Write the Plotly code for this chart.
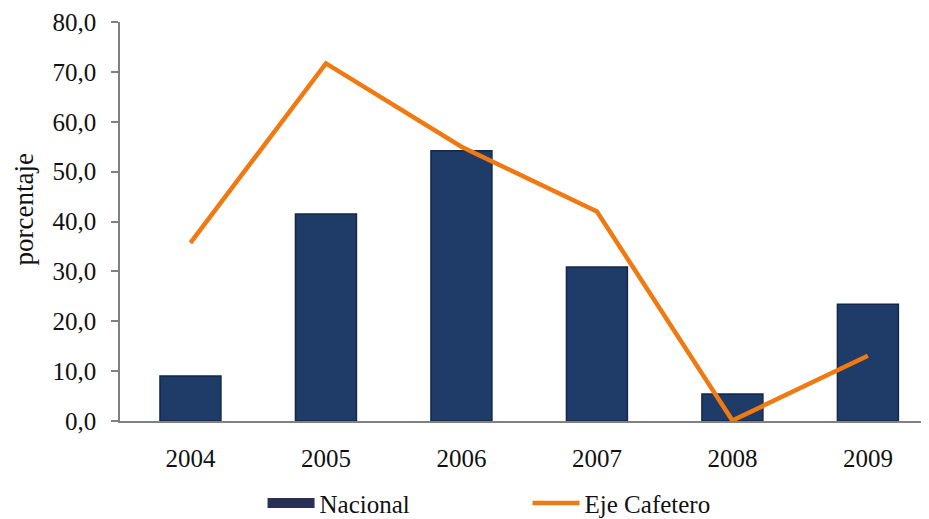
import plotly.graph_objects as go

years = ["2004", "2005", "2006", "2007", "2008", "2009"]
nacional = [9.0, 41.5, 54.2, 30.9, 5.4, 23.4]
eje_cafetero = [35.7, 71.7, 55.0, 42.0, 0.1, 13.1]
y_ticks = [0, 10, 20, 30, 40, 50, 60, 70, 80]

font_family = "Liberation Serif"
navy = "#1f3b68"
orange = "#f07a12"

fig = go.Figure()
fig.add_trace(go.Bar(
    x=years, y=nacional, name="Nacional", showlegend=False,
    width=0.45,
    marker=dict(color=navy, line=dict(color="#13284b", width=1.5)),
))
fig.add_trace(go.Scatter(
    x=years, y=eje_cafetero, name="Eje Cafetero", mode="lines", showlegend=False,
    line=dict(color=orange, width=4.5),
))
# legend entries (no data)
fig.add_trace(go.Scatter(
    x=[None], y=[None], name="Nacional", mode="lines",
    line=dict(color="#2a2f55", width=11),
))
fig.add_trace(go.Scatter(
    x=[None], y=[None], name="Eje Cafetero", mode="lines",
    line=dict(color=orange, width=4.5),
))

fig.update_layout(
    width=929, height=519,
    margin=dict(l=112, r=0, t=14, b=106, autoexpand=False),
    paper_bgcolor="white", plot_bgcolor="white",
    separators=",.",
    font=dict(family=font_family, size=25, color="#111111"),
    showlegend=True,
    legend=dict(
        orientation="h", xref="container", x=0.274, xanchor="left",
        yref="container", y=0.046, yanchor="middle",
        font=dict(family=font_family, size=25, color="#111111"),
        itemwidth=47, entrywidth=203, bgcolor="rgba(0,0,0,0)",
    ),
    annotations=[dict(
        text="porcentaje", textangle=-90, showarrow=False,
        xref="paper", x=0, xanchor="center", xshift=-96,
        yref="paper", y=0.53, yanchor="middle",
        font=dict(family=font_family, size=27, color="#111111"),
    )],
)
fig.update_xaxes(
    type="category", range=[-0.52, 5.51], automargin=False,
    showline=True, linecolor="#808080", linewidth=1.5,
    ticks="", showgrid=False, ticklabelstandoff=14,
    tickfont=dict(family=font_family, size=25, color="#111111"),
)
fig.update_yaxes(
    range=[0, 80], tickvals=y_ticks, tickformat=".1f", automargin=False,
    showline=True, linecolor="#808080", linewidth=1.5,
    ticks="outside", ticklen=7, tickcolor="#808080", tickwidth=1.5,
    showgrid=False, zeroline=False, ticklabelstandoff=10,
    ticklabeloverflow="allow",
    tickfont=dict(family=font_family, size=25, color="#111111"),
)

fig.write_html("out.html")
